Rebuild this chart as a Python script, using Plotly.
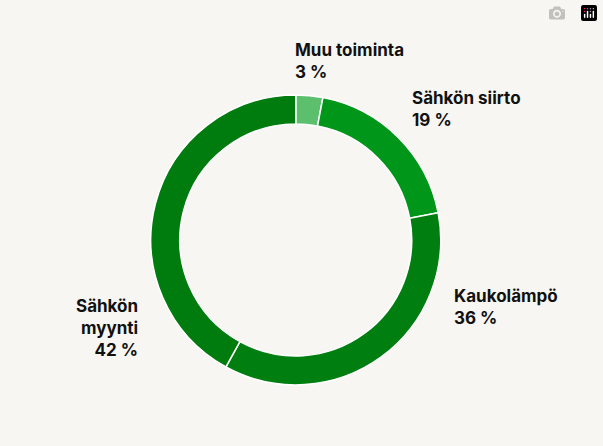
import plotly.graph_objects as go

categories = ["Muu toiminta", "Sähkön siirto", "Kaukolämpö", "Sähkön<br>myynti"]
values = [3, 19, 36, 42]
colors = ["#5cbf6e", "#00961a", "#007e10", "#007c0f"]

fig = go.Figure(go.Pie(
    labels=categories, values=values, sort=False, direction="clockwise", rotation=0,
    hole=0.8, marker=dict(colors=colors, line=dict(color="#ffffff", width=1.5)),
    textinfo="none", hoverinfo="label+percent", showlegend=False,
    domain=dict(x=[0.25, 0.731], y=[0.137, 0.787])
))

W, H = 603, 446
pos = [(293, 38, "left", "left"), (410, 86, "left", "left"),
       (452, 284, "left", "left"), (140, 294, "right", "right")]
for c, v, (x, y, xa, al) in zip(categories, values, pos):
    fig.add_annotation(x=x / W, y=1 - y / H, xref="paper", yref="paper",
                       xanchor=xa, yanchor="top", align=al, showarrow=False,
                       text=f"<b>{c}<br>{v} %</b>",
                       font=dict(family="Inter", size=17, color="#111111"))

fig.update_layout(width=W, height=H, margin=dict(l=0, r=0, t=0, b=0),
                  paper_bgcolor="#f7f6f2", plot_bgcolor="#f7f6f2")
fig.write_html("out.html",
               post_script="document.body.style.margin='0';document.body.style.background='#f7f6f2';")
